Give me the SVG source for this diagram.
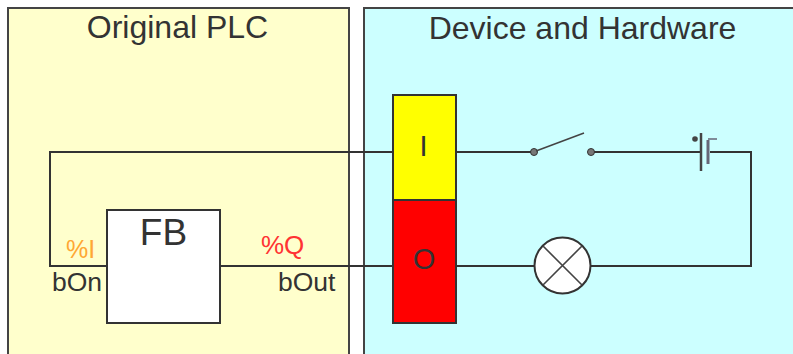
<svg xmlns="http://www.w3.org/2000/svg" width="793" height="354" viewBox="0 0 793 354">
<style>
text{font-family:"Liberation Sans",Arial,sans-serif;fill:#333}
.panel{stroke:#444;stroke-width:2}
.wire{fill:none;stroke:#333;stroke-width:2}
.thin{fill:none;stroke:#444;stroke-width:1.6}
.box{stroke:#333;stroke-width:2}
</style>
<rect width="793" height="354" fill="#fff"/>
<g id="plc"><path class="panel" fill="#ffffcc" d="M8 360V8H349V360Z"/>
<text x="177.500" y="38" font-size="32" text-anchor="middle">Original PLC</text></g>
<g id="device"><path class="panel" fill="#ccffff" d="M364 360V8H800V360Z"/>
<text x="582.500" y="39" font-size="32" text-anchor="middle">Device and Hardware</text></g>
<g id="connectors">
<path class="wire" d="M393 152H50V266H107"/>
<path class="wire" d="M220 266H393"/>
<path class="wire" d="M456 152H534"/>
<path class="wire" d="M591 152H702M710 152H751V266H591"/>
<path class="wire" d="M456 266H534"/>
</g>
<g id="input"><rect class="box" x="393" y="95" width="63" height="105" fill="#ffff00"/>
<text x="423.500" y="156" font-size="29" text-anchor="middle">I</text></g>
<g id="output"><rect class="box" x="393" y="200" width="63" height="123" fill="#ff0000"/>
<text x="424" y="269" font-size="29" text-anchor="middle">O</text></g>
<g id="fb"><rect class="box" x="107" y="210" width="113" height="113" fill="#fff"/>
<text x="163.500" y="245" font-size="37" text-anchor="middle">FB</text></g>
<g id="labels">
<text x="66" y="258" font-size="25" style="fill:#ffa733">%I</text>
<text x="261" y="254" font-size="26" style="fill:#ff3333">%Q</text>
<text x="52" y="291" font-size="26.500">bOn</text>
<text x="278" y="291" font-size="26.500">bOut</text>
</g>
<g id="switch">
<circle cx="534" cy="152" r="3.500" fill="#777" stroke="#333"/>
<circle cx="591" cy="152" r="3.500" fill="#777" stroke="#333"/>
<path class="thin" d="M536 151L584 133"/>
</g>
<g id="battery">
<path d="M701 133V171" stroke="#444" stroke-width="2.500" fill="none"/>
<path d="M708 140V164" stroke="#667" stroke-width="3" fill="none"/>
<path d="M708 139H717" stroke="#667" stroke-width="1.500" fill="none"/>
<circle cx="695" cy="139" r="2.800" fill="#444"/>
</g>
<g id="lamp">
<circle cx="562.500" cy="265.500" r="28" fill="#fff" stroke="#333" stroke-width="2"/>
<path class="thin" d="M543 246L582 285M582 246L543 285"/>
</g>
</svg>
